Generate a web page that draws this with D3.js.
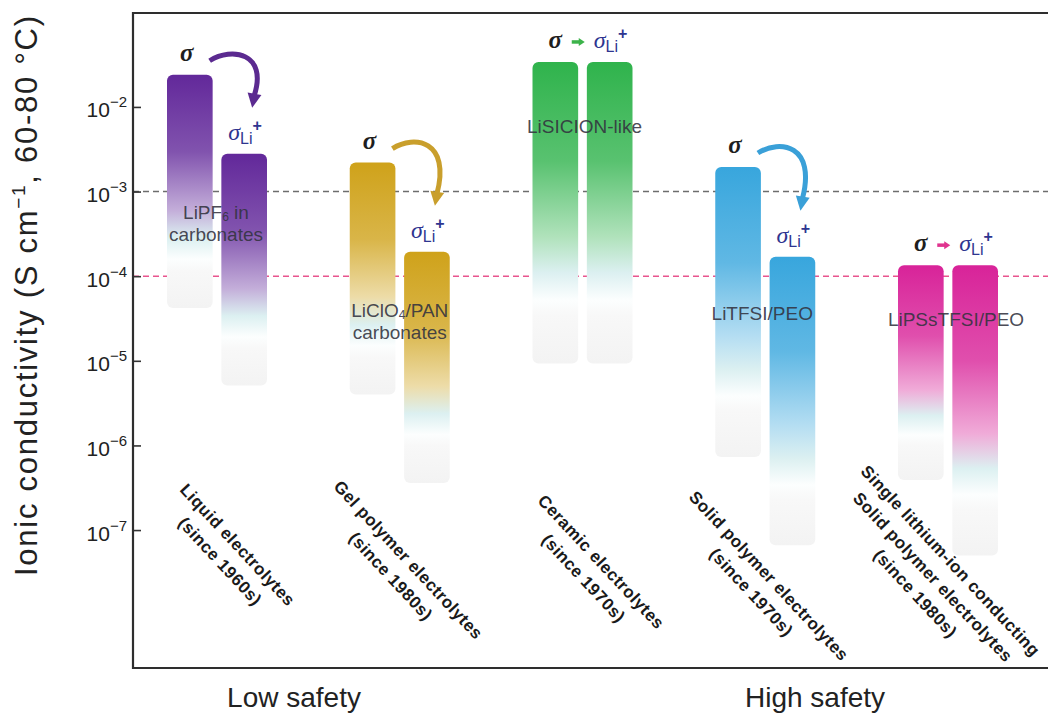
<!DOCTYPE html>
<html><head><meta charset="utf-8">
<script src="https://cdn.jsdelivr.net/npm/d3@7"></script>
<style>html,body{margin:0;padding:0;background:#fff;} svg{display:block}</style>
</head><body>
<svg id="chart" width="1048" height="716"></svg>
<script>
// ---------------- data ----------------
const categories = [
  "Liquid electrolytes\n(since 1960s)",
  "Gel polymer electrolytes\n(since 1980s)",
  "Ceramic electrolytes\n(since 1970s)",
  "Solid polymer electrolytes\n(since 1970s)",
  "Single lithium-ion conducting\nSolid polymer electrolytes\n(since 1980s)"
];
const materials = ["LiPF_{6} in\ncarbonates", "LiClO_{4}/PAN\ncarbonates", "LiSICION-like", "LiTFSI/PEO", "LiPSsTFSI/PEO"];
const sigmaTop      = [2.4e-2, 2.2e-3, 3.4e-2, 1.95e-3, 1.35e-4];
const sigmaBottom   = [4.2e-5, 4.0e-6, 9.3e-6, 7.3e-7, 3.9e-7];
const sigmaLiTop    = [2.8e-3, 1.94e-4, 3.4e-2, 1.7e-4, 1.35e-4];
const sigmaLiBottom = [5.1e-6, 3.6e-7, 9.3e-6, 6.6e-8, 5.0e-8];
const materialLabelAt = [4.7e-4, 3.3e-5, 4.9e-3, 3.0e-5, 2.6e-5];
const yTickExponents = [-2, -3, -4, -5, -6, -7];
const referenceLines = [1e-3, 1e-4];
const safetyLabels = ["Low safety", "High safety"];

// ---------------- styles / layout ----------------
const palette = ["#62289a", "#cfa21a", "#2fb34c", "#38a6dd", "#d82399"];
const arrowColors = ["#5b2a90", "#c99f2c", "#3cb34a", "#3aa0d8", "#e0338f"];
const refColors = ["#6d6d6d", "#e9548e"];
const catNudge = [[12, 553], [0, 568], [10, 570], [-5, 584], [-15, 577]];
const matNudge = [-1, 0, 2, -3, 8];
const safetyX = [294, 815];

const svg = d3.select("#chart");
const L = 133, T = 13, B = 668, R = 1050;
const y = d3.scaleLog().domain([Math.pow(10, -8.63), Math.pow(10, -0.89)]).range([B, T]);
const x = d3.scalePoint().domain(categories).range([217, 948]);
const sub = d3.scaleBand().domain(["s", "sLi"]).range([-50, 50]).paddingInner(0.16);
const bw = sub.bandwidth();

const defs = svg.append("defs");
function mix(c, t) { return d3.interpolateRgb(c, "#ffffff")(t); }

// reference dashed lines
referenceLines.forEach((v, i) => {
  svg.append("line").attr("x1", L).attr("x2", 1048).attr("y1", y(v)).attr("y2", y(v))
    .attr("stroke", refColors[i]).attr("stroke-width", 1.4).attr("stroke-dasharray", "6,4");
});

// axis
const yAxis = d3.axisLeft(y).tickValues(yTickExponents.map(e => Math.pow(10, e)))
  .tickSizeInner(-8).tickSizeOuter(0).tickFormat("");
const ag = svg.append("g").attr("transform", `translate(${L},0)`).call(yAxis);
ag.select(".domain").remove();
ag.selectAll(".tick line").attr("stroke", "#333").attr("stroke-width", 1.6);
ag.selectAll(".tick").each(function(d) {
  const e = Math.round(Math.log10(d));
  const t = d3.select(this).append("text").attr("x", -6).attr("y", 10)
    .attr("text-anchor", "end").attr("fill", "#222")
    .style("font-family", "'Liberation Sans', Arial, sans-serif");
  t.append("tspan").attr("font-size", 21).text("10");
  t.append("tspan").attr("font-size", 15).attr("dy", -10).text("\u2212" + Math.abs(e));
});

// frame
svg.append("path").attr("d", `M${R},${T}H${L}V${B}H${R}`).attr("fill", "none")
  .attr("stroke", "#2e2e2e").attr("stroke-width", 2.2);

// bars
const bars = [];
categories.forEach((c, i) => {
  bars.push({ i, key: "s", top: sigmaTop[i], bottom: sigmaBottom[i] });
  bars.push({ i, key: "sLi", top: sigmaLiTop[i], bottom: sigmaLiBottom[i] });
});
bars.forEach((b, k) => {
  const col = palette[b.i];
  const g = defs.append("linearGradient").attr("id", "grad" + k)
    .attr("x1", 0).attr("y1", 0).attr("x2", 0).attr("y2", 1);
  const stops = [
    [0, col], [0.33, mix(col, 0.2)], [0.58, mix(col, 0.62)],
    [0.7, "#dcf0f1"], [0.79, "#fcfefe"], [0.84, "#f8f8f8"], [1, "#f3f3f3"]
  ];
  stops.forEach(s => g.append("stop").attr("offset", s[0]).attr("stop-color", s[1]));
});
svg.append("g").selectAll("rect").data(bars).join("rect")
  .attr("x", d => x(categories[d.i]) + sub(d.key))
  .attr("y", d => y(d.top))
  .attr("width", bw)
  .attr("height", d => y(d.bottom) - y(d.top))
  .attr("rx", 6).attr("ry", 6)
  .attr("fill", (d, k) => `url(#grad${k})`);

// material labels (one text element per label, lines as tspans)
materials.forEach((m, i) => {
  const cx = x(categories[i]) + matNudge[i];
  const t = svg.append("text").attr("x", cx).attr("y", y(materialLabelAt[i]))
    .attr("text-anchor", "middle").attr("font-size", 19).attr("fill", "#33333f")
    .attr("fill-opacity", 0.9)
    .style("font-family", "'Liberation Sans', Arial, sans-serif");
  m.split("\n").forEach((ln, j) => {
    const parts = ln.split(/_\{(.*?)\}/);
    let first = true, shift = 0;
    parts.forEach((p, k) => {
      if (!p) return;
      const ts = t.append("tspan");
      let dy = 0;
      if (first) { ts.attr("x", cx); dy = (j > 0 ? 22 : 0) - shift; shift = 0; first = false; }
      if (k % 2 === 1) { ts.attr("font-size", 12); dy += 2; shift += 2; }
      else if (shift) { dy -= shift; shift = 0; }
      if (dy) ts.attr("dy", dy);
      ts.text(p);
    });
    if (shift) { t.append("tspan").attr("dy", -shift).text(""); }
  });
});

// sigma labels & arrows
const serif = "'Liberation Serif', 'Times New Roman', serif";
const sans = "'Liberation Sans', Arial, sans-serif";
categories.forEach((c, i) => {
  const cx = x(c);
  const sC = cx + sub("s") + bw / 2;
  const lC = cx + sub("sLi") + bw / 2;
  const straight = sigmaTop[i] === sigmaLiTop[i];
  const sY = y(sigmaTop[i]) - 14;
  const lY = y(sigmaLiTop[i]) - 14;
  svg.append("text").attr("x", sC - (straight ? 0 : 3)).attr("y", sY)
    .attr("text-anchor", "middle").attr("font-size", 25).attr("font-weight", "bold")
    .attr("font-style", "italic").attr("fill", "#1e1e1e").style("font-family", serif).text("σ");
  const lt = svg.append("text").attr("x", lC - 16).attr("y", lY).attr("fill", "#2e3590");
  lt.append("tspan").attr("font-size", 24).attr("font-style", "italic").style("font-family", serif).text("σ");
  lt.append("tspan").attr("font-size", 16).attr("dy", 4).style("font-family", sans).text("Li");
  lt.append("tspan").attr("font-size", 16).attr("font-weight", "bold").attr("dy", -13).style("font-family", sans).text("+");

  const ac = arrowColors[i];
  if (straight) {
    const xm = (sC + 6.5 + lC - 16) / 2;
    const ay = sY - 6;
    svg.append("line").attr("x1", xm - 6).attr("x2", xm + 2).attr("y1", ay).attr("y2", ay)
      .attr("stroke", ac).attr("stroke-width", 3.5);
    svg.append("path").attr("d", `M${xm + 1},${ay - 4}L${xm + 7},${ay}L${xm + 1},${ay + 4}Z`).attr("fill", ac);
  } else {
    const sR = cx + sub("s") + bw;
    const S = [sR - 3, y(sigmaTop[i]) - 14];
    const Tp = [lC + 8, y(sigmaLiTop[i]) - 46];
    const C1 = [S[0] + 22, S[1] - 14];
    const C2 = [Tp[0] + 16, S[1] - 8];
    const E = [Tp[0] + 2, Tp[1] - 12];
    svg.append("path").attr("d", `M${S}C${C1} ${C2} ${E}`).attr("fill", "none")
      .attr("stroke", ac).attr("stroke-width", 5);
    const dx = Tp[0] - E[0], dy = Tp[1] - E[1], len = Math.hypot(dx, dy);
    const ux = dx / len, uy = dy / len, nx = -uy, ny = ux;
    const bx = E[0] - ux * 2, by = E[1] - uy * 2;
    svg.append("path").attr("d",
      `M${Tp[0]},${Tp[1]}L${bx + nx * 7},${by + ny * 7}L${bx - nx * 7},${by - ny * 7}Z`).attr("fill", ac);
  }
});

// category labels (rotated)
categories.forEach((c, i) => {
  const lines = c.split("\n");
  const lh = 24;
  const t = svg.append("text")
    .attr("transform", `translate(${x(c) + catNudge[i][0]},${catNudge[i][1]}) rotate(47)`)
    .attr("text-anchor", "middle").attr("font-size", 17).attr("font-weight", "bold")
    .attr("fill", "#1a1a1a").attr("letter-spacing", 0.5).style("font-family", sans);
  lines.forEach((ln, j) => {
    t.append("tspan").attr("x", 0).attr("y", (j - (lines.length - 1) / 2) * lh + 6).text(ln);
  });
});

// safety labels
safetyLabels.forEach((s, i) => {
  svg.append("text").attr("x", safetyX[i]).attr("y", 707).attr("text-anchor", "middle")
    .attr("font-size", 28).attr("fill", "#222").style("font-family", sans).text(s);
});

// y title
const yt = svg.append("text").attr("transform", "translate(37,296) rotate(-90)")
  .attr("text-anchor", "middle").attr("font-size", 31).attr("fill", "#222")
  .attr("textLength", 560).attr("lengthAdjust", "spacing").style("font-family", sans);
yt.append("tspan").text("Ionic conductivity (S cm");
yt.append("tspan").attr("font-size", 19).attr("dy", -12).text("\u22121");
yt.append("tspan").attr("dy", 12).text(", 60-80 \u00B0C)");
</script>
</body></html>
